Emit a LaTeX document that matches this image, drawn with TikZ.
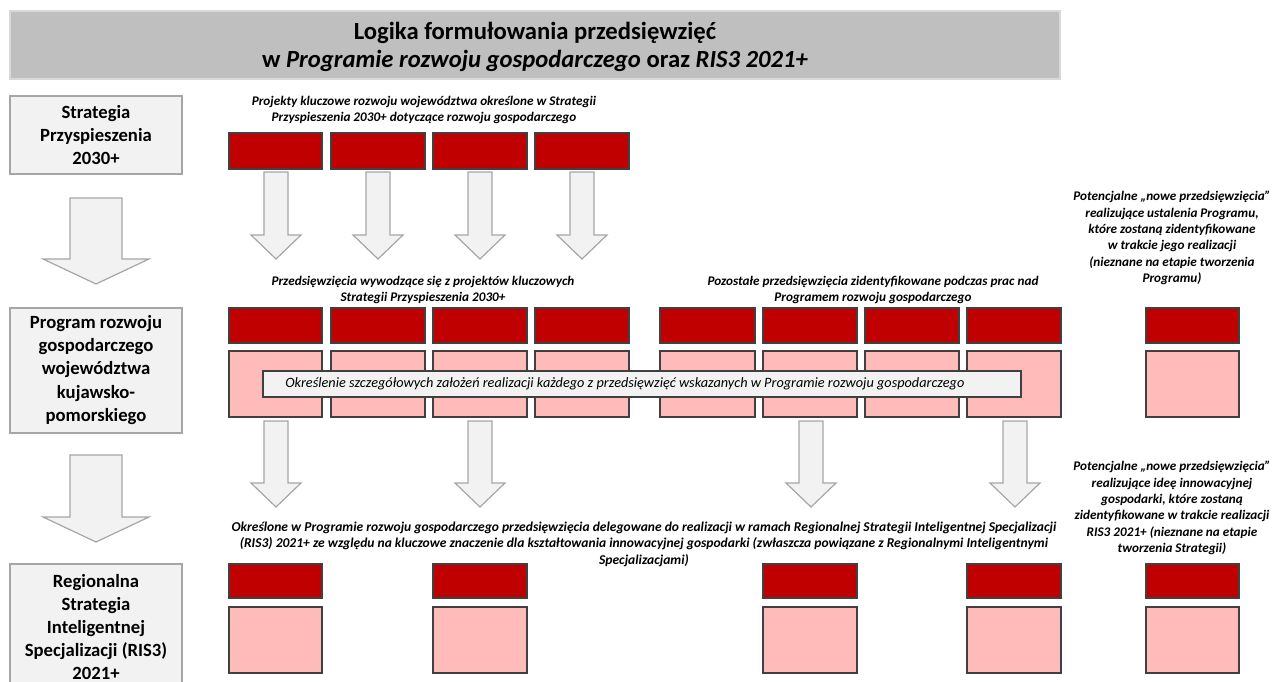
\documentclass[tikz,border=0pt]{standalone}
\usepackage{fontspec}
\setmainfont{Carlito}
\usepackage{tikz}

\definecolor{projred}{HTML}{C00000}
\definecolor{projpink}{HTML}{FFBABA}
\definecolor{edgegray}{HTML}{404040}
\definecolor{lvlfill}{HTML}{F2F2F2}
\definecolor{lvldraw}{HTML}{A6A6A6}
\definecolor{headfill}{HTML}{BFBFBF}
\definecolor{headdraw}{HTML}{D9D9D9}

\begin{document}
\begin{tikzpicture}[x=0.75pt,y=-0.75pt,
	level/.style={fill=lvlfill,draw=lvldraw,line width=1.1pt},
	keyproj/.style={fill=projred,draw=edgegray,line width=0.8pt},
	detail/.style={fill=projpink,draw=edgegray,line width=0.8pt},
	band/.style={fill=lvlfill,draw=edgegray,line width=0.8pt},
	flow/.style={fill=lvlfill,draw=lvldraw,line width=0.9pt,line join=miter},
	headtext/.style={font=\fontsize{18.5}{20.5}\selectfont\bfseries,align=center,inner sep=0pt},
	lvltext/.style={font=\fontsize{14}{17.3}\selectfont\bfseries,align=center,inner sep=0pt},
	note/.style={font=\fontsize{9.9}{12.3}\selectfont\bfseries\itshape,align=center,inner sep=0pt},
	bandtext/.style={font=\fontsize{10.7}{12}\selectfont\itshape,inner sep=0pt}]
			\useasboundingbox (0,0) rectangle (1275,682);
			\clip (0,0) rectangle (1275,682);

			\filldraw[fill=headfill,draw=headdraw,line width=1pt] (10,11) rectangle (1060,79);
			\node[headtext] (head) at (535,47) {Logika formułowania przedsięwzięć\\w \textit{Programie rozwoju gospodarczego} oraz \textit{RIS3 2021+}};

			\filldraw[level] (10,96) rectangle (182,174);
			\node[lvltext] (strat) at (96,135) {Strategia\\Przyspieszenia\\2030+};
			\filldraw[level] (10,308) rectangle (182,433);
			\node[lvltext] (prog) at (96,370) {Program rozwoju\\gospodarczego\\województwa\\kujawsko-\\pomorskiego};
			\filldraw[level] (10,564) rectangle (182,700);
			\node[lvltext] (ris) at (96,627) {Regionalna\\Strategia\\Inteligentnej\\Specjalizacji (RIS3)\\2021+};

			\filldraw[flow] (70,198) -- (122,198) -- (122,259) -- (149,259) -- (96,284) -- (43,259) -- (70,259) -- cycle;
			\filldraw[flow] (70,455) -- (122,455) -- (122,517) -- (149,517) -- (96,542) -- (43,517) -- (70,517) -- cycle;

			\node[note] (keyhead) at (424,110) {Projekty kluczowe rozwoju województwa określone w Strategii\\Przyspieszenia 2030+ dotyczące rozwoju gospodarczego};
			\filldraw[keyproj] (229,133) rectangle (322,169);
			\filldraw[keyproj] (331,133) rectangle (425,169);
			\filldraw[keyproj] (433,133) rectangle (527,169);
			\filldraw[keyproj] (535,133) rectangle (629,169);

			\filldraw[flow] (264,172) -- (288,172) -- (288,235) -- (301,235) -- (276,259) -- (251,235) -- (264,235) -- cycle;
			\filldraw[flow] (366,172) -- (390,172) -- (390,235) -- (403,235) -- (378,259) -- (353,235) -- (366,235) -- cycle;
			\filldraw[flow] (468,172) -- (492,172) -- (492,235) -- (505,235) -- (480,259) -- (455,235) -- (468,235) -- cycle;
			\filldraw[flow] (570,172) -- (594,172) -- (594,235) -- (607,235) -- (582,259) -- (557,235) -- (570,235) -- cycle;

			\node[note] (derived) at (423,290) {Przedsięwzięcia wywodzące się z projektów kluczowych\\Strategii Przyspieszenia 2030+};
			\node[note] (other) at (873,290) {Pozostałe przedsięwzięcia zidentyfikowane podczas prac nad\\Programem rozwoju gospodarczego};
			\node[note] (newprog) at (1172,238) {Potencjalne „nowe przedsięwzięcia”\\realizujące ustalenia Programu,\\które zostaną zidentyfikowane\\w trakcie jego realizacji\\(nieznane na etapie tworzenia\\Programu)};

			\filldraw[keyproj] (229,308) rectangle (322,343);
			\filldraw[keyproj] (331,308) rectangle (425,343);
			\filldraw[keyproj] (433,308) rectangle (527,343);
			\filldraw[keyproj] (535,308) rectangle (629,343);
			\filldraw[keyproj] (660,308) rectangle (755,343);
			\filldraw[keyproj] (763,308) rectangle (857,343);
			\filldraw[keyproj] (865,308) rectangle (959,343);
			\filldraw[keyproj] (967,308) rectangle (1061,343);
			\filldraw[keyproj] (1146,308) rectangle (1239,343);

			\filldraw[detail] (229,351) rectangle (322,417);
			\filldraw[detail] (331,351) rectangle (425,417);
			\filldraw[detail] (433,351) rectangle (527,417);
			\filldraw[detail] (535,351) rectangle (629,417);
			\filldraw[detail] (660,351) rectangle (755,417);
			\filldraw[detail] (763,351) rectangle (857,417);
			\filldraw[detail] (865,351) rectangle (959,417);
			\filldraw[detail] (967,351) rectangle (1061,417);
			\filldraw[detail] (1146,351) rectangle (1239,417);

			\filldraw[band] (263,371) rectangle (1021,397);
			\node[bandtext,anchor=west] (spec) at (285,384) {Określenie szczegółowych założeń realizacji każdego z przedsięwzięć wskazanych w Programie rozwoju gospodarczego};

			\filldraw[flow] (264,421) -- (288,421) -- (288,483) -- (301,483) -- (276,507) -- (251,483) -- (264,483) -- cycle;
			\filldraw[flow] (468,421) -- (492,421) -- (492,483) -- (505,483) -- (480,507) -- (455,483) -- (468,483) -- cycle;
			\filldraw[flow] (799,421) -- (823,421) -- (823,483) -- (836,483) -- (811,507) -- (786,483) -- (799,483) -- cycle;
			\filldraw[flow] (1003,421) -- (1027,421) -- (1027,483) -- (1040,483) -- (1015,507) -- (990,483) -- (1003,483) -- cycle;

			\node[note,font=\fontsize{10.15}{12.4}\selectfont\bfseries\itshape] (deleg) at (644,544) {Określone w Programie rozwoju gospodarczego przedsięwzięcia delegowane do realizacji w ramach Regionalnej Strategii Inteligentnej Specjalizacji\\(RIS3) 2021+ ze względu na kluczowe znaczenie dla kształtowania innowacyjnej gospodarki (zwłaszcza powiązane z Regionalnymi Inteligentnymi\\Specjalizacjami)};
			\node[note] (newris) at (1172,508) {Potencjalne „nowe przedsięwzięcia”\\realizujące ideę innowacyjnej\\gospodarki, które zostaną\\zidentyfikowane w trakcie realizacji\\RIS3 2021+ (nieznane na etapie\\tworzenia Strategii)};

			\filldraw[keyproj] (229,564) rectangle (322,598);
			\filldraw[keyproj] (433,564) rectangle (527,598);
			\filldraw[keyproj] (763,564) rectangle (857,598);
			\filldraw[keyproj] (967,564) rectangle (1061,598);
			\filldraw[keyproj] (1146,564) rectangle (1239,598);

			\filldraw[detail] (229,607) rectangle (322,673);
			\filldraw[detail] (433,607) rectangle (527,673);
			\filldraw[detail] (763,607) rectangle (857,673);
			\filldraw[detail] (967,607) rectangle (1061,673);
			\filldraw[detail] (1146,607) rectangle (1239,673);
		\end{tikzpicture}
\end{document}
